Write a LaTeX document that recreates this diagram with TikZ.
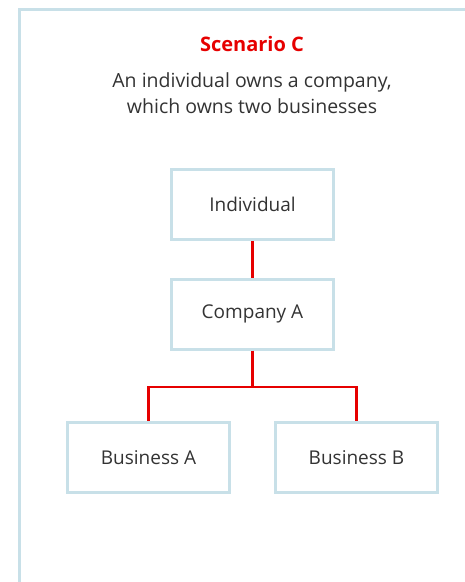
\documentclass[tikz,border=0pt]{standalone}
\usepackage{fontspec}
\setmainfont{Open Sans}
\definecolor{framecol}{RGB}{200,224,232}
\definecolor{linkred}{RGB}{230,0,0}
\definecolor{textgray}{RGB}{51,51,51}
\tikzset{
  entity/.style={draw=framecol, line width=3pt, minimum width=162pt, minimum height=70pt,
    text=textgray, font=\fontsize{19}{22}\selectfont},
  link/.style={draw=linkred, line width=2.6pt}
}
\begin{document}
\begin{tikzpicture}[x=1pt,y=-1pt]
    \useasboundingbox (0,0) rectangle (465,582);
    % outer frame
    \draw[framecol, line width=3pt] (19.5,582) -- (19.5,9.5) -- (465,9.5);

    \node[text=linkred, font=\fontsize{20}{24}\bfseries\selectfont] (title) at (252,44) {Scenario C};
    \node[text=textgray, align=center, font=\fontsize{19.5}{26}\selectfont] (sub) at (252,93)
        {An individual owns a company,\\which owns two businesses};

    \node[entity] (indiv) at (252.5,204.5) {Individual};
    \node[entity] (compa) at (252.5,314) {Company A};
    \node[entity] (busa) at (148.5,457.5) {Business A};
    \node[entity] (busb) at (356.5,457.5) {Business B};
    \coordinate (split) at (252.5,387);

    \draw[link] (indiv) -- (compa);
    \draw[link] (compa) -- (split);
    \draw[link] (split) -| (busa);
    \draw[link] (split) -| (busb);
\end{tikzpicture}
\end{document}
